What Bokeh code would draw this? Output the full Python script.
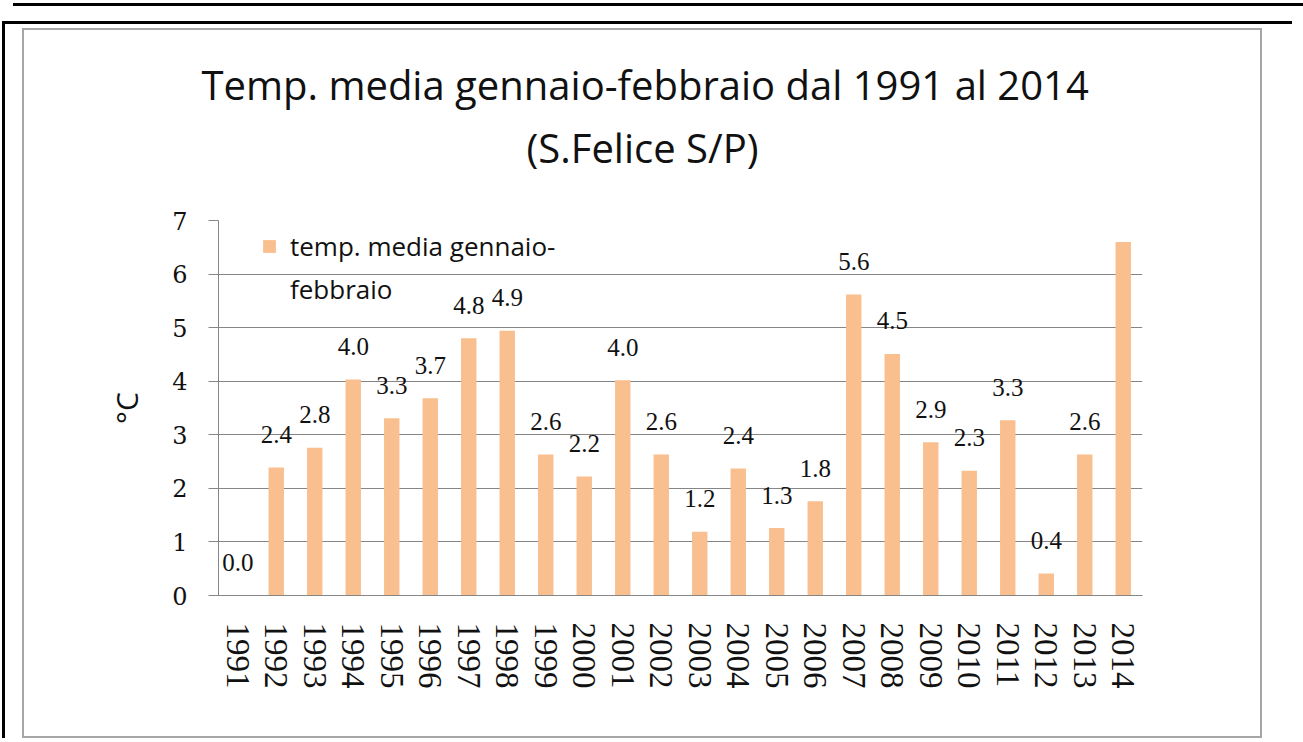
import math
from bokeh.plotting import figure
from bokeh.models import (ColumnDataSource, FactorRange, Range1d, FixedTicker,
                          Title, Legend, LegendItem, LabelSet)
from bokeh.layouts import column
from bokeh.embed import file_html
from bokeh.resources import INLINE

# ---- data ----
years = [str(y) for y in range(1991, 2015)]
temps = [0.0, 2.39, 2.76, 4.03, 3.31, 3.68, 4.80, 4.94, 2.63, 2.22, 4.02, 2.63,
         1.19, 2.37, 1.26, 1.76, 5.62, 4.51, 2.86, 2.33, 3.27, 0.41, 2.63, 6.60]
labels = ["0.0", "2.4", "2.8", "4.0", "3.3", "3.7", "4.8", "4.9", "2.6", "2.2", "4.0", "2.6",
          "1.2", "2.4", "1.3", "1.8", "5.6", "4.5", "2.9", "2.3", "3.3", "0.4", "2.6", "6.6"]
y_ticks = [0, 1, 2, 3, 4, 5, 6, 7]
title_line1 = "Temp. media gennaio-febbraio  dal 1991 al 2014"
title_line2 = "(S.Felice S/P)"
legend_line1 = "temp. media gennaio-"
legend_line2 = "febbraio"
y_label = "°C"

BAR = "#F9BF8F"
GRID = "#868686"
TXT = "#111111"

src = ColumnDataSource(dict(year=years, temp=temps, label=labels))

p = figure(x_range=FactorRange(factors=years, range_padding=0),
           y_range=Range1d(0, 7),
           width=1236, height=706,
           output_backend="svg", toolbar_location=None,
           min_border_left=194, min_border_right=118,
           min_border_top=190, min_border_bottom=141,
           background_fill_color="white", border_fill_color="white",
           outline_line_color=None)

bars = p.vbar(x="year", top="temp", width=0.4, source=src,
              fill_color=BAR, line_color=None)
ghost = p.vbar(x="year", top="temp", width=0.4, source=src,
               fill_alpha=0, line_alpha=0)

labs = LabelSet(x="year", y="temp", text="label", source=src,
                text_align="center", text_baseline="middle", y_offset=33,
                text_font="DejaVu Serif", text_font_size="25px", text_color=TXT)
p.add_layout(labs)

# grid
p.xgrid.grid_line_color = None
p.ygrid.grid_line_color = GRID
p.ygrid.grid_line_width = 1
p.ygrid.ticker = FixedTicker(ticks=y_ticks)

# y axis
p.yaxis.ticker = FixedTicker(ticks=y_ticks)
p.yaxis.axis_line_color = GRID
p.yaxis.major_tick_line_color = GRID
p.yaxis.major_tick_out = 10
p.yaxis.major_tick_in = 0
p.yaxis.minor_tick_line_color = None
p.yaxis.major_label_standoff = 21
p.yaxis.major_label_text_font = "DejaVu Serif"
p.yaxis.major_label_text_font_size = "24px"
p.yaxis.major_label_text_color = TXT
p.yaxis.axis_label = y_label
p.yaxis.axis_label_text_font = "Open Sans"
p.yaxis.axis_label_text_font_size = "30px"
p.yaxis.axis_label_text_font_style = "normal"
p.yaxis.axis_label_text_color = TXT
p.yaxis.axis_label_standoff = 22

# x axis
p.xaxis.axis_line_color = GRID
p.xaxis.major_tick_line_color = None
p.xaxis.major_tick_out = 0
p.xaxis.major_tick_in = 0
p.xaxis.major_label_orientation = -math.pi / 2
p.xaxis.major_label_standoff = 27
p.xaxis.major_label_text_font = "Liberation Serif"
p.xaxis.major_label_text_font_size = "33px"
p.xaxis.major_label_text_color = TXT

# legend
legend = Legend(items=[LegendItem(label=legend_line1, renderers=[bars]),
                       LegendItem(label=legend_line2, renderers=[ghost])],
                location=(43, 288), margin=0, padding=0, spacing=7,
                glyph_width=16, glyph_height=16, label_height=30,
                label_standoff=13, border_line_color=None,
                background_fill_alpha=0,
                label_text_font="Open Sans", label_text_font_size="26px",
                label_text_color=TXT)
p.add_layout(legend)

# titles (first added is closest to the frame)
t2 = Title(text=title_line2, align="left", offset=308, standoff=92,
           text_font="Open Sans", text_font_size="40px",
           text_font_style="normal", text_color=TXT)
t1 = Title(text=title_line1, align="left", offset=-17, standoff=-81,
           text_font="Open Sans", text_font_size="40px",
           text_font_style="normal", text_color=TXT)
p.add_layout(t2, "above")
p.add_layout(t1, "above")

# chart box (grey border) and the page's black rules
box = column(p, margin=(4, 0, 0, 17),
             styles={"border": "2px solid #a6a6a6"})
inner = column(box, width=1301, margin=(15, 0, 0, -11),
               styles={"border-top": "3px solid #000", "border-left": "3px solid #000"})
outer = column(inner, width=1290, margin=(3, 0, 0, 13),
               styles={"border-top": "3px solid #000"})

open("out.html", "w").write(file_html(outer, INLINE))
